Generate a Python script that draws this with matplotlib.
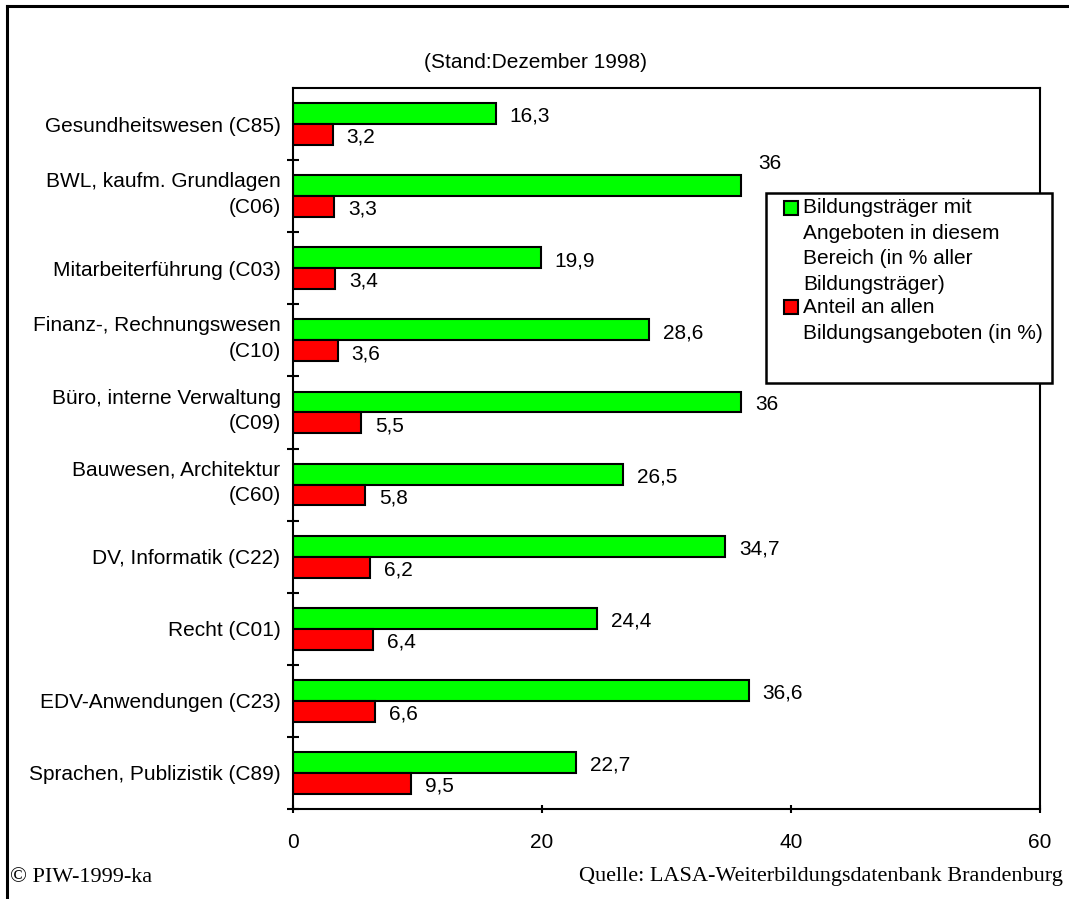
import numpy as np
import matplotlib.pyplot as plt
import matplotlib.transforms as mtransforms
from matplotlib.patches import Rectangle
from matplotlib.lines import Line2D

plt.rcParams['font.family'] = ['Liberation Sans', 'DejaVu Sans']

# Fachbereiche von oben nach unten
bereiche = ['Gesundheitswesen (C85)', 'BWL, kaufm. Grundlagen\n(C06)',
            'Mitarbeiterführung (C03)', 'Finanz-, Rechnungswesen\n(C10)',
            'Büro, interne Verwaltung\n(C09)', 'Bauwesen, Architektur\n(C60)',
            'DV, Informatik (C22)', 'Recht (C01)', 'EDV-Anwendungen (C23)',
            'Sprachen, Publizistik (C89)']
traeger = [16.3, 36, 19.9, 28.6, 36, 26.5, 34.7, 24.4, 36.6, 22.7]
anteil = [3.2, 3.3, 3.4, 3.6, 5.5, 5.8, 6.2, 6.4, 6.6, 9.5]
xticks = [0, 20, 40, 60]

lbl_traeger = ['Bildungsträger mit', 'Angeboten in diesem', 'Bereich (in % aller', 'Bildungsträger)']
lbl_anteil = ['Anteil an allen', 'Bildungsangeboten (in %)']

W, H = 1069, 899
FS = 15


def fmt(v):
    return f'{v:g}'.replace('.', ',')


def px(x):
    return x / W


def py(y):
    return 1 - y / H


fig = plt.figure(figsize=(W / 100, H / 100), dpi=100)
ax = fig.add_axes([px(293), 90 / H, 747 / W, 721 / H])

y = np.arange(len(bereiche))
h = 0.29
off = 0.145
ax.barh(y - off, traeger, height=h, color='#00ff00', edgecolor='black', linewidth=1.5)
ax.barh(y + off, anteil, height=h, color='#ff0000', edgecolor='black', linewidth=1.5)

for i, v in enumerate(traeger):
    if i == 1:
        # Beschriftung über dem Balken, sonst liegt sie unter der Legende
        ax.annotate(fmt(v), (v, i - off), xytext=(12, 16), textcoords='offset points',
                    va='center', ha='left', fontsize=FS)
    else:
        ax.annotate(fmt(v), (v, i - off), xytext=(10, -2), textcoords='offset points',
                    va='center', ha='left', fontsize=FS)
for i, v in enumerate(anteil):
    ax.annotate(fmt(v), (v, i + off), xytext=(10, -2), textcoords='offset points',
                va='center', ha='left', fontsize=FS)

ax.set_xlim(0, 60)
ax.set_ylim(len(bereiche) - 0.5, -0.5)
ax.set_xticks(xticks)
ax.set_xticklabels([str(t) for t in xticks], fontsize=FS)
ax.set_yticks(y)
ax.set_yticklabels(bereiche, fontsize=FS, linespacing=1.45)
ax.set_yticks(np.arange(len(bereiche)) + 0.5, minor=True)
ax.tick_params(axis='y', which='major', length=0, pad=9)
ax.tick_params(axis='y', which='minor', direction='inout', length=9, width=1.5)
ax.tick_params(axis='x', direction='inout', length=6, width=1.5, pad=14)
for s in ax.spines.values():
    s.set_linewidth(1.5)

# zweizeilige Beschriftungen etwas nach oben
shift = mtransforms.ScaledTranslation(0, 5 / 72, fig.dpi_scale_trans)
for lab in ax.get_yticklabels():
    if '\n' in lab.get_text():
        lab.set_transform(lab.get_transform() + shift)

# Legende von Hand: Kasten, Farbquadrate, Zeilen
fig.add_artist(Rectangle((px(766), py(383)), px(1052) - px(766), py(193) - py(383),
                         transform=fig.transFigure, facecolor='white', edgecolor='black',
                         linewidth=1.8, zorder=5))
for y0, col in [(208, '#00ff00'), (307, '#ff0000')]:
    fig.add_artist(Rectangle((px(784), py(y0 + 7)), 14 / W, 14 / H, transform=fig.transFigure,
                             facecolor=col, edgecolor='black', linewidth=1.5, zorder=6))
for k, line in enumerate(lbl_traeger + lbl_anteil):
    fig.text(px(803), py(208 + k * 25.5 - (2 if k >= 4 else 0)), line, ha='left', va='center',
             fontsize=FS, zorder=7)

fig.text(px(535), py(62), '(Stand:Dezember 1998)', ha='center', va='center', fontsize=FS)

fig.text(px(10), py(877), '© PIW-1999-ka', ha='left', va='center',
         fontsize=16, family='Liberation Serif')
fig.text(px(1063), py(877), 'Quelle: LASA-Weiterbildungsdatenbank Brandenburg',
         ha='right', va='center', fontsize=16, family='Liberation Serif')

# Rahmen oben und links
fig.add_artist(Line2D([px(7), px(7)], [0, py(6)], color='black', lw=2.2))
fig.add_artist(Line2D([px(7), 1], [py(6), py(6)], color='black', lw=2.2))

fig.savefig('out.png', dpi=100)
